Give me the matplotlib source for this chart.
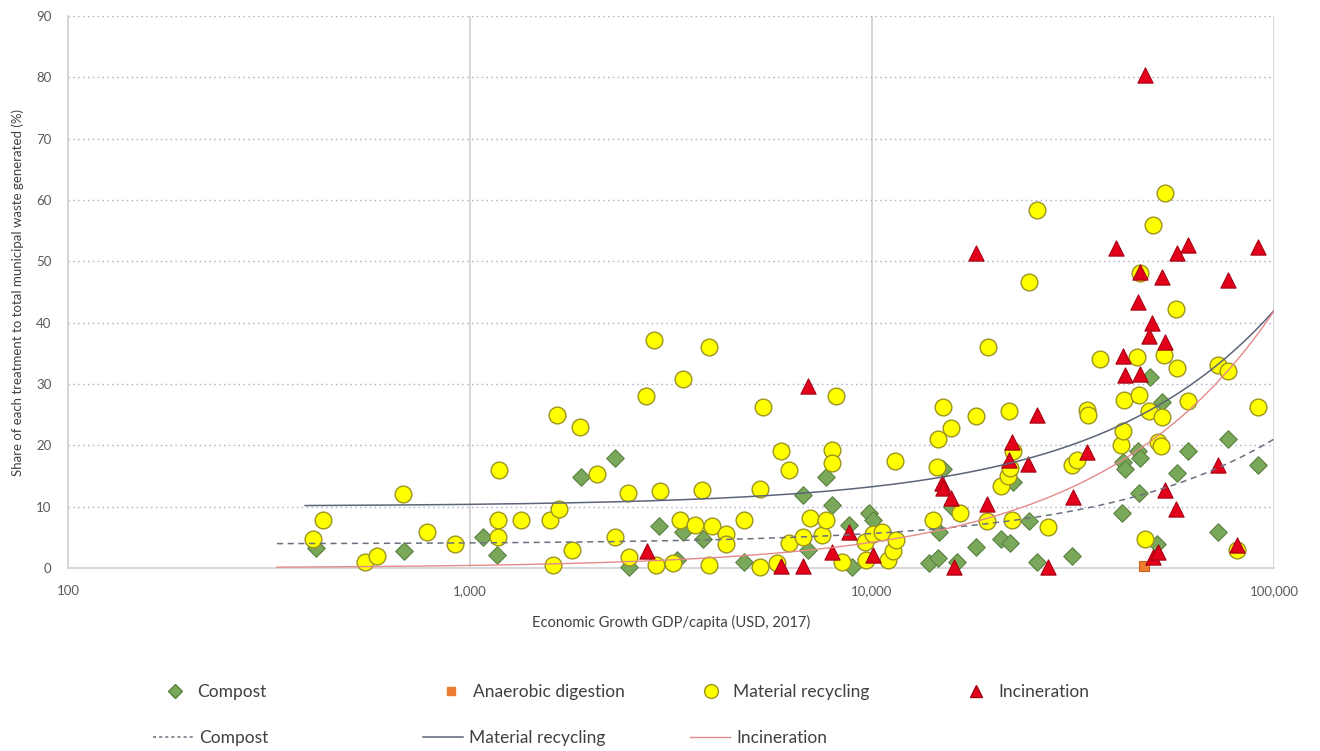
import numpy as np
import matplotlib
matplotlib.use("Agg")
import matplotlib.pyplot as plt
from matplotlib.lines import Line2D
from matplotlib.ticker import FixedLocator, NullLocator

plt.rcParams['font.family'] = ['Lato', 'DejaVu Sans']

# GDP per capita (USD, 2017) and share (%) for each treatment
compost_gdp = [414, 685, 1076, 1169, 1886, 2295, 2483, 2957, 3267, 3381, 3793, 4805,
               6747, 6944, 7684, 7939, 8780, 8900, 9846, 10040, 13880, 14620, 14710,
               15040, 15790, 16250, 18140, 20900, 22040, 22460, 24620, 25690, 31400,
               41800, 42180, 42600, 45970, 46420, 46230, 49140, 51240, 52540, 57460,
               61200, 72670, 76960, 91400]
compost_pct = [3.3, 2.8, 5.1, 2.1, 14.9, 18.0, 0.1, 6.9, 1.3, 5.9, 4.8, 0.9,
               11.9, 2.9, 14.9, 10.3, 7.0, 0.1, 9.0, 7.9, 0.8, 1.6, 5.8,
               16.1, 9.9, 1.0, 3.5, 4.7, 4.0, 14.1, 7.6, 1.0, 2.0,
               8.9, 17.3, 16.1, 19.1, 18.0, 12.3, 31.2, 3.9, 27.1, 15.5,
               19.0, 5.9, 21.0, 16.8]

anaerobic_gdp = [46420, 47500]
anaerobic_pct = [48.0, 0.3]

recycling_gdp = [406, 430, 548, 586, 683, 780, 918, 1176, 1176, 1183, 1337, 1581, 1612,
                 1643, 1668, 1791, 1883, 2066, 2295, 2479, 2483, 2741, 2869, 2907, 2974,
                 3193, 3383, 3329, 3638, 3770, 3938, 3938, 3992, 4335, 4342, 4805, 5265,
                 5265, 5365, 5813, 5928, 6228, 6228, 6724, 7013, 7497, 7684, 7939, 7939,
                 8150, 8406, 9607, 9645, 10040, 10570, 10980, 11260, 11470, 11410, 14160,
                 14490, 14620, 15040, 15700, 16550, 18140, 19290, 19470, 20900, 21830,
                 21950, 22040, 22260, 22460, 24620, 25780, 27450, 31400, 32300, 34320,
                 34500, 36920, 41570, 42040, 42420, 45700, 46230, 46420, 47890, 48950,
                 49900, 51530, 52340, 52730, 53250, 53560, 57040, 57370, 61200, 72670,
                 76960, 80770, 91400]
recycling_pct = [4.8, 7.9, 1.0, 1.9, 12.1, 5.9, 3.9, 7.9, 5.0, 16.0, 7.9, 7.9, 0.5,
                 24.9, 9.7, 2.9, 23.0, 15.3, 5.0, 12.2, 1.8, 28.0, 37.1, 0.5, 12.5,
                 0.8, 30.8, 7.9, 7.0, 12.7, 36.1, 0.5, 6.9, 5.5, 3.9, 7.9, 12.9,
                 0.1, 26.3, 0.8, 19.1, 16.0, 4.0, 5.1, 8.2, 5.4, 7.8, 19.2, 17.2,
                 28.0, 1.0, 4.3, 1.3, 5.5, 5.9, 1.3, 2.7, 4.5, 17.5, 7.9,
                 16.5, 21.1, 26.3, 22.9, 8.9, 24.8, 7.6, 36.1, 13.3, 15.0,
                 25.6, 16.3, 7.8, 19.0, 46.7, 58.3, 6.7, 16.8, 17.6, 25.7,
                 24.9, 34.1, 20.1, 22.4, 27.4, 34.4, 28.2, 48.1, 4.8, 25.6,
                 55.9, 20.5, 19.9, 24.7, 34.7, 61.2, 42.2, 32.6, 27.3, 33.1,
                 32.2, 2.9, 26.2]

incineration_gdp = [2752, 5928, 6747, 6944, 7939, 8780, 10070, 14910, 15040, 15700, 16000,
                    18140, 19290, 21950, 22260, 24480, 25690, 27450, 31580, 34250, 40340,
                    42180, 42600, 45760, 46420, 46420, 47760, 48870, 49700, 50130, 51530,
                    52650, 53560, 53560, 57040, 57230, 61200, 72670, 76880, 80770, 91400]
incineration_pct = [2.7, 0.3, 0.3, 29.7, 2.6, 5.8, 2.1, 13.8, 13.0, 11.4, 0.2,
                    51.3, 10.4, 17.6, 20.6, 16.9, 24.9, 0.1, 11.6, 18.9, 52.1,
                    34.6, 31.4, 43.4, 31.6, 48.2, 80.4, 37.9, 40.0, 1.8, 2.6,
                    47.4, 12.7, 36.9, 9.7, 51.3, 52.7, 16.8, 47.0, 3.8, 52.4]

# linear trendlines (intercept, slope per USD) and their x range
trend_compost = (3.92, 0.000171)
trend_recycling = (10.06, 0.000319)
trend_incineration = (0.0, 0.000419)
trend_start = {"compost": 331, "recycling": 389, "incineration": 331}
trend_end = 100000

fig = plt.figure(figsize=(13.2, 7.51), dpi=100)
ax = fig.add_axes([68 / 1320, 1 - 568 / 751, (1274 - 68) / 1320, (568 - 16) / 751])

ax.scatter(compost_gdp, compost_pct, marker='D', s=80, c='#79a85a', edgecolors='#5b8240',
           linewidths=0.8, zorder=3, clip_on=False)
ax.scatter(anaerobic_gdp, anaerobic_pct, marker='s', s=60, c='#ed7d31', edgecolors='#c8621e',
           linewidths=0.8, zorder=3, clip_on=False)
ax.scatter(recycling_gdp, recycling_pct, marker='o', s=145, c='#ffff00', edgecolors='#9c9420',
           linewidths=1.0, zorder=4, clip_on=False)
ax.scatter(incineration_gdp, incineration_pct, marker='^', s=120, c='#e2001a', edgecolors='#a80012',
           linewidths=0.8, zorder=5, clip_on=False)

def trend(name, coef, **kw):
    xs = np.logspace(np.log10(trend_start[name]), np.log10(trend_end), 200)
    ax.plot(xs, coef[0] + coef[1] * xs, zorder=6, **kw)

trend("compost", trend_compost, color='#6b6f80', lw=1.1, ls=(0, (4, 3)))
trend("recycling", trend_recycling, color='#5c6478', lw=1.1)
trend("incineration", trend_incineration, color='#e58a8a', lw=1.0)

ax.set_xscale('log')
ax.set_xlim(100, 100000)
ax.set_ylim(0, 90)
ax.xaxis.set_major_locator(FixedLocator([100, 1000, 10000, 100000]))
ax.xaxis.set_minor_locator(NullLocator())
ax.set_xticklabels(['100', '1,000', '10,000', '100,000'])
ax.set_yticks(range(0, 91, 10))
ax.tick_params(axis='both', length=0, labelsize=9.5, colors='#595959')
ax.tick_params(axis='x', pad=12)
ax.tick_params(axis='y', pad=12)

ax.xaxis.grid(True, color='#d4d4d4', lw=1.3, ls='-')
ax.yaxis.grid(True, color='#a8acc8', lw=1.0, ls=(0, (1, 2.5)))
ax.set_axisbelow(True)
for side in ['top', 'right']:
    ax.spines[side].set_visible(False)
for side in ['left', 'bottom']:
    ax.spines[side].set_color('#d4d4d4')
    ax.spines[side].set_linewidth(1.3)

ax.set_xlabel('Economic Growth GDP/capita (USD, 2017)', fontsize=10.5, color='#404040', labelpad=13)
fig.text(18 / 1320, 1 - 292 / 751, 'Share of each treatment to total municipal waste generated (%)',
         rotation=90, ha='center', va='center', fontsize=9.5, color='#404040')

# legend: one entry per box so the spacing follows the original
row1 = [
    (Line2D([], [], ls='', marker='D', ms=7, mfc='#79a85a', mec='#5b8240'), 'Compost', 166),
    (Line2D([], [], ls='', marker='s', ms=6, mfc='#ed7d31', mec='#ed7d31'), 'Anaerobic digestion', 442),
    (Line2D([], [], ls='', marker='o', ms=10, mfc='#ffff00', mec='#9c9420'), 'Material recycling', 702),
    (Line2D([], [], ls='', marker='^', ms=8, mfc='#e2001a', mec='#a80012'), 'Incineration', 967),
]
row2 = [
    (Line2D([], [], color='#6b6f80', lw=1.1, ls=(0, (2, 2))), 'Compost', 153),
    (Line2D([], [], color='#5c6478', lw=1.1), 'Material recycling', 423),
    (Line2D([], [], color='#e58a8a', lw=1.0), 'Incineration', 690),
]
for h, lab, x in row1:
    fig.legend([h], [lab], loc='center left', bbox_to_anchor=(x / 1320, 1 - 692 / 751),
               frameon=False, borderpad=0, borderaxespad=0, handlelength=1.0, handletextpad=0.8,
               fontsize=12.5, labelcolor='#404040')
for h, lab, x in row2:
    fig.legend([h], [lab], loc='center left', bbox_to_anchor=(x / 1320, 1 - 738 / 751),
               frameon=False, borderpad=0, borderaxespad=0, handlelength=2.3, handletextpad=0.35,
               fontsize=12.5, labelcolor='#404040')

fig.savefig('out.png', dpi=100)
